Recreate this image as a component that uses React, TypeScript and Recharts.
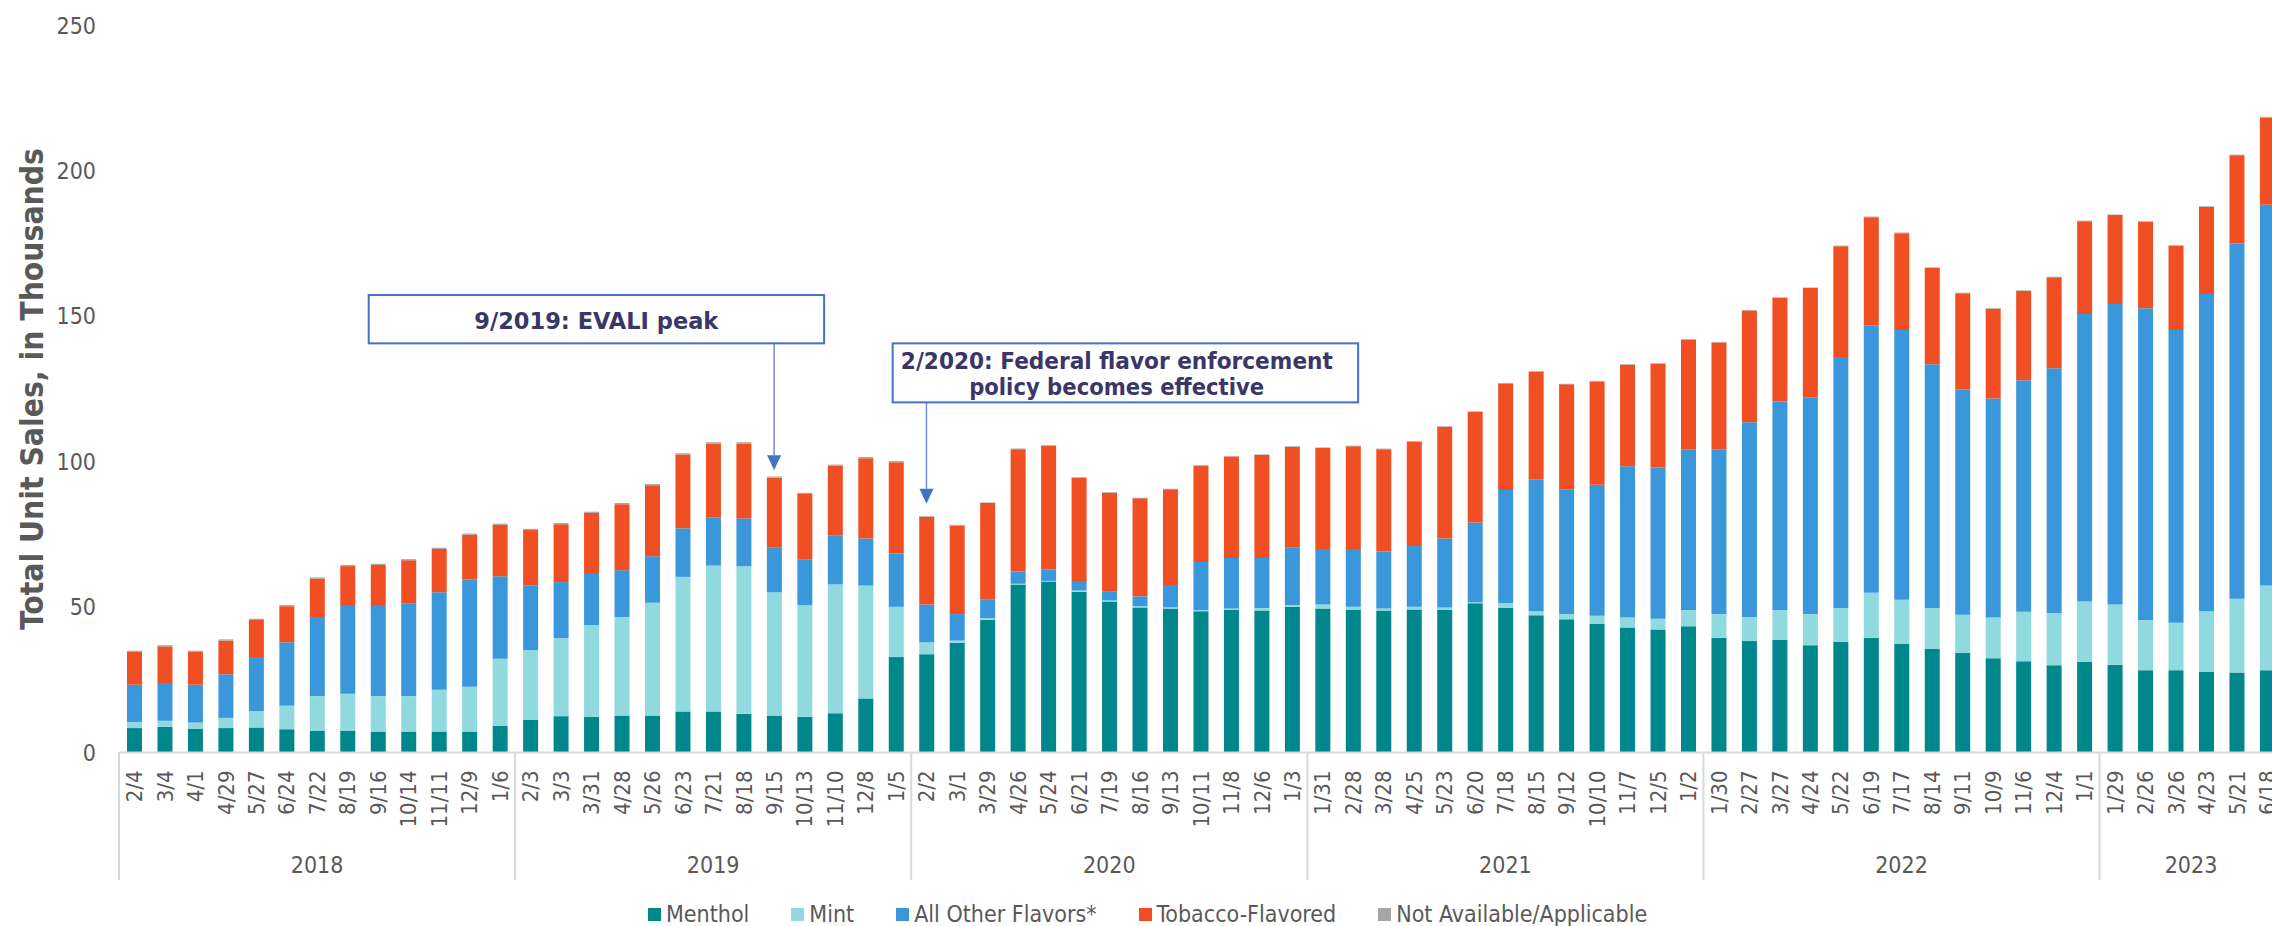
import React from 'react';
import { BarChart, Bar, XAxis, YAxis, Legend, ReferenceLine } from 'recharts';

const FONT = "'DejaVu Sans Condensed', 'DejaVu Sans', sans-serif";
const TEXT = '#595959';
const AXIS = '#d9d9d9';
const NOTE_TEXT = '#3b3668';
const NOTE_BLUE = '#4472C4';

const CHART_W = 2300;
const CHART_H = 926;
const MARGIN = { top: 25.5, right: 17.6, bottom: 0, left: 0 };
const YAXIS_W = 119;
const XAXIS_H = 173.5;
const PLOT_W = CHART_W - MARGIN.left - MARGIN.right - YAXIS_W;

const yearLabels = ['2018', '2019', '2020', '2021', '2022', '2023'];
const yearCounts = [13, 13, 13, 13, 13, 6];

const periodLabels = [
  '2/4', '3/4', '4/1', '4/29', '5/27', '6/24', '7/22', '8/19', '9/16', '10/14', '11/11', '12/9', '1/6',
  '2/3', '3/3', '3/31', '4/28', '5/26', '6/23', '7/21', '8/18', '9/15', '10/13', '11/10', '12/8', '1/5',
  '2/2', '3/1', '3/29', '4/26', '5/24', '6/21', '7/19', '8/16', '9/13', '10/11', '11/8', '12/6', '1/3',
  '1/31', '2/28', '3/28', '4/25', '5/23', '6/20', '7/18', '8/15', '9/12', '10/10', '11/7', '12/5', '1/2',
  '1/30', '2/27', '3/27', '4/24', '5/22', '6/19', '7/17', '8/14', '9/11', '10/9', '11/6', '12/4', '1/1',
  '1/29', '2/26', '3/26', '4/23', '5/21', '6/18',
];

const menthol = [
  8.4, 8.8, 8.2, 8.4, 8.6, 8.0, 7.4, 7.4, 7.2, 7.2, 7.2, 7.2, 9.2,
  11.3, 12.5, 12.3, 12.7, 12.7, 14.1, 14.1, 13.3, 12.7, 12.3, 13.5, 18.6, 32.8,
  33.8, 37.7, 45.6, 57.8, 58.8, 55.3, 51.9, 49.9, 49.5, 48.6, 49.0, 48.8, 50.1,
  49.5, 49.0, 48.8, 49.2, 49.0, 51.3, 49.7, 47.2, 45.8, 44.2, 43.0, 42.3, 43.4,
  39.5, 38.3, 38.7, 36.9, 38.1, 39.5, 37.3, 35.6, 34.2, 32.4, 31.4, 30.0, 31.2,
  30.2, 28.3, 28.3, 27.7, 27.5, 28.3,
];

const mint = [
  2.1, 2.1, 2.1, 3.5, 5.7, 8.1, 12.0, 12.8, 12.2, 12.2, 14.4, 15.4, 23.0,
  23.9, 26.8, 31.5, 33.9, 38.8, 46.3, 50.2, 50.8, 42.4, 38.4, 44.3, 38.8, 17.3,
  4.1, 0.8, 0.6, 0.2, 0.2, 0.4, 0.4, 0.4, 0.4, 0.4, 0.5, 0.9, 0.6,
  1.4, 1.1, 0.7, 0.9, 0.9, 0.4, 1.6, 1.4, 1.8, 2.8, 3.4, 3.7, 5.6,
  8.1, 8.3, 10.3, 10.7, 11.6, 15.4, 15.2, 14.1, 13.2, 14.0, 17.0, 18.0, 20.7,
  20.7, 17.3, 16.3, 20.9, 25.4, 29.1,
];

const otherFlavors = [
  12.8, 13.0, 13.0, 15.0, 18.5, 21.8, 27.2, 30.5, 31.3, 31.9, 33.5, 37.0, 28.4,
  22.2, 19.3, 17.6, 16.1, 16.0, 16.7, 16.4, 16.4, 15.3, 15.8, 16.7, 16.2, 18.4,
  13.0, 9.1, 6.5, 4.2, 3.9, 3.3, 3.0, 3.4, 7.7, 16.5, 17.4, 17.2, 19.7,
  19.1, 19.9, 19.6, 20.9, 23.7, 27.4, 39.0, 45.3, 42.9, 45.1, 52.0, 52.0, 55.1,
  56.5, 67.0, 71.7, 74.6, 86.3, 92.0, 92.8, 83.8, 77.4, 75.3, 79.6, 84.1, 98.9,
  103.3, 107.2, 100.7, 109.1, 122.1, 131.0,
];

const tobacco = [
  11.3, 12.6, 11.3, 11.6, 12.8, 12.4, 13.2, 13.4, 13.8, 14.8, 14.9, 15.3, 17.7,
  19.1, 19.9, 21.0, 22.7, 24.4, 25.4, 25.6, 25.8, 24.1, 22.4, 24.1, 27.6, 31.3,
  30.2, 30.5, 33.1, 42.1, 42.6, 35.5, 34.0, 33.7, 32.9, 33.1, 34.9, 35.4, 34.7,
  34.7, 35.3, 35.2, 35.9, 38.4, 38.0, 36.6, 37.0, 36.1, 35.5, 34.9, 35.7, 37.8,
  36.9, 38.4, 35.6, 37.5, 38.1, 37.2, 33.3, 33.1, 33.1, 30.9, 30.7, 31.3, 31.9,
  30.6, 29.7, 29.0, 30.0, 30.4, 30.0,
];

const notAvailable = [
  0.4, 0.4, 0.4, 0.4, 0.4, 0.4, 0.4, 0.4, 0.4, 0.4, 0.4, 0.4, 0.4,
  0.4, 0.4, 0.4, 0.4, 0.4, 0.4, 0.4, 0.4, 0.4, 0.4, 0.4, 0.4, 0.4,
  0.2, 0.2, 0.2, 0.2, 0.2, 0.2, 0.2, 0.2, 0.2, 0.2, 0.2, 0.2, 0.2,
  0.2, 0.2, 0.2, 0.2, 0.2, 0.2, 0.2, 0.2, 0.2, 0.2, 0.2, 0.2, 0.2,
  0.2, 0.2, 0.2, 0.2, 0.2, 0.2, 0.2, 0.2, 0.2, 0.2, 0.2, 0.2, 0.2,
  0.2, 0.2, 0.2, 0.2, 0.2, 0.2,
];

const seriesKeys = ['menthol', 'mint', 'other', 'tobacco', 'na'];
const seriesNames = ['Menthol', 'Mint', 'All Other Flavors*', 'Tobacco-Flavored', 'Not Available/Applicable'];
const seriesColors = ['#00878B', '#90D9DE', '#3997DA', '#F04F23', '#A6A6A6'];
const yTicks = [0, 50, 100, 150, 200, 250];

const yearOfIndex: number[] = [];
const posInYear: number[] = [];
yearCounts.forEach((c, g) => {
  for (let k = 0; k < c; k++) {
    yearOfIndex.push(g);
    posInYear.push(k);
  }
});

const data = periodLabels.map((label, i) => ({
  key: `${yearLabels[yearOfIndex[i]]}-${label}`,
  label,
  menthol: menthol[i],
  mint: mint[i],
  other: otherFlavors[i],
  tobacco: tobacco[i],
  na: notAvailable[i],
}));

const DateTick = (props: any) => {
  const { x, y, payload } = props;
  const i = typeof props.index === 'number' ? props.index : payload.index;
  const pitch = PLOT_W / data.length;
  const d = data[i];
  const g = yearOfIndex[i];
  const first = posInYear[i] === 0;
  const yearX = x + ((yearCounts[g] - 1) / 2) * pitch;
  const ly = y + 18;
  return (
    <g>
      <text
        x={x}
        y={ly}
        dy="0.36em"
        transform={`rotate(-90, ${x}, ${ly})`}
        textAnchor="end"
        fill={TEXT}
        fontSize={22}
        fontFamily={FONT}
        style={{ fontStretch: 'condensed' }}
      >
        {d ? d.label : ''}
      </text>
      {first && (
        <line x1={x - pitch / 2} x2={x - pitch / 2} y1={y} y2={y + 127.5} stroke={AXIS} strokeWidth={2} />
      )}
      {first && (
        <text
          x={yearX}
          y={y + 120}
          textAnchor="middle"
          fill={TEXT}
          fontSize={23}
          fontFamily={FONT}
          style={{ fontStretch: 'condensed' }}
        >
          {yearLabels[g]}
        </text>
      )}
    </g>
  );
};

const YTitle = (props: any) => {
  const vb = props.viewBox || { x: 0, y: MARGIN.top, width: YAXIS_W, height: CHART_H - XAXIS_H - MARGIN.top };
  const cx = vb.x + 42.5;
  const cy = vb.y + vb.height / 2;
  return (
    <text
      x={cx}
      y={cy}
      transform={`rotate(-90, ${cx}, ${cy})`}
      textAnchor="middle"
      fill={TEXT}
      fontSize={32}
      fontWeight="bold"
      fontFamily={FONT}
      textLength={482}
      lengthAdjust="spacingAndGlyphs"
    >
      Total Unit Sales, in Thousands
    </text>
  );
};

type NoteLine = { text: string; dx: number; dy: number; len: number };

const makeCallout = (box: { left: number; right: number; top: number }, lines: NoteLine[]) => (p: any) => {
  const { x1, y1, x2, y2 } = p;
  const headH = 15;
  const headW = 7;
  return (
    <g>
      <line x1={x1} y1={y1} x2={x2} y2={y2 - headH} stroke="#6E8FD2" strokeWidth={1.5} />
      <polygon
        points={`${x2 - headW},${y2 - headH} ${x2 + headW},${y2 - headH} ${x2},${y2}`}
        fill={NOTE_BLUE}
      />
      <rect
        x={x1 + box.left}
        y={y1 + box.top}
        width={box.right - box.left}
        height={-box.top}
        fill="#ffffff"
        stroke={NOTE_BLUE}
        strokeWidth={2}
      />
      {lines.map((l) => (
        <text
          key={l.text}
          x={x1 + l.dx}
          y={y1 + l.dy}
          textAnchor="middle"
          fill={NOTE_TEXT}
          fontSize={23}
          fontWeight="bold"
          fontFamily={FONT}
          textLength={l.len}
          lengthAdjust="spacingAndGlyphs"
        >
          {l.text}
        </text>
      ))}
    </g>
  );
};

const evaliShape = makeCallout({ left: -405.4, right: 50, top: -48.3 }, [
  { text: '9/2019: EVALI peak', dx: -177.8, dy: -14, len: 244 },
]);

const fdaShape = makeCallout({ left: -33.8, right: 431.7, top: -59 }, [
  { text: '2/2020: Federal flavor enforcement', dx: 190.4, dy: -33.8, len: 432 },
  { text: 'policy becomes effective', dx: 190.2, dy: -7.3, len: 295 },
]);

const LegendContent = (props: any) => {
  const fromPayload: any[] = props.payload && props.payload.length ? props.payload : [];
  const items = seriesNames.map((n, i) => {
    const p = fromPayload.find((q: any) => q.value === n);
    return { name: n, color: p && p.color ? p.color : seriesColors[i] };
  });
  return (
    <div
      style={{
        display: 'flex',
        alignItems: 'center',
        whiteSpace: 'nowrap',
        fontFamily: FONT,
        fontStretch: 'condensed',
        fontSize: 23,
        lineHeight: '28px',
        color: TEXT,
      }}
    >
      {items.map((it: any) => (
        <div key={it.name} style={{ display: 'flex', alignItems: 'center', marginRight: 42 }}>
          <span style={{ display: 'inline-block', width: 13, height: 13, background: it.color, marginRight: 5 }} />
          <span>{it.name}</span>
        </div>
      ))}
    </div>
  );
};

export default function App() {
  return (
    <div
      style={{
        position: 'absolute',
        left: 0,
        top: 0,
        width: 2272,
        height: 926,
        overflow: 'hidden',
        background: '#ffffff',
        fontFamily: FONT,
      }}
    >
      <BarChart width={CHART_W} height={CHART_H} data={data} margin={MARGIN} barSize={15}>
        <XAxis
          dataKey="key"
          type="category"
          interval={0}
          height={XAXIS_H}
          tickLine={false}
          tickSize={0}
          tickMargin={0}
          axisLine={{ stroke: AXIS, strokeWidth: 2 }}
          tick={<DateTick />}
        />
        <YAxis
          width={YAXIS_W}
          domain={[0, 250]}
          ticks={yTicks}
          axisLine={false}
          tickLine={false}
          tickSize={0}
          tickMargin={23}
          tick={{ fill: TEXT, fontSize: 23, fontFamily: FONT, style: { fontStretch: 'condensed' } }}
          label={<YTitle />}
        />
        {seriesKeys.map((k, i) => (
          <Bar
            key={k}
            dataKey={k}
            name={seriesNames[i]}
            stackId="a"
            fill={seriesColors[i]}
            isAnimationActive={false}
          />
        ))}
        <ReferenceLine
          segment={[
            { x: '2019-9/15', y: 140.7 },
            { x: '2019-9/15', y: 97.1 },
          ]}
          shape={evaliShape}
          ifOverflow="visible"
        />
        <ReferenceLine
          segment={[
            { x: '2020-2/2', y: 120.4 },
            { x: '2020-2/2', y: 85.5 },
          ]}
          shape={fdaShape}
          ifOverflow="visible"
        />
        <Legend
          content={<LegendContent />}
          wrapperStyle={{ position: 'absolute', left: 648, top: 900, bottom: 'auto', width: 1700, height: 0 }}
        />
      </BarChart>
    </div>
  );
}
